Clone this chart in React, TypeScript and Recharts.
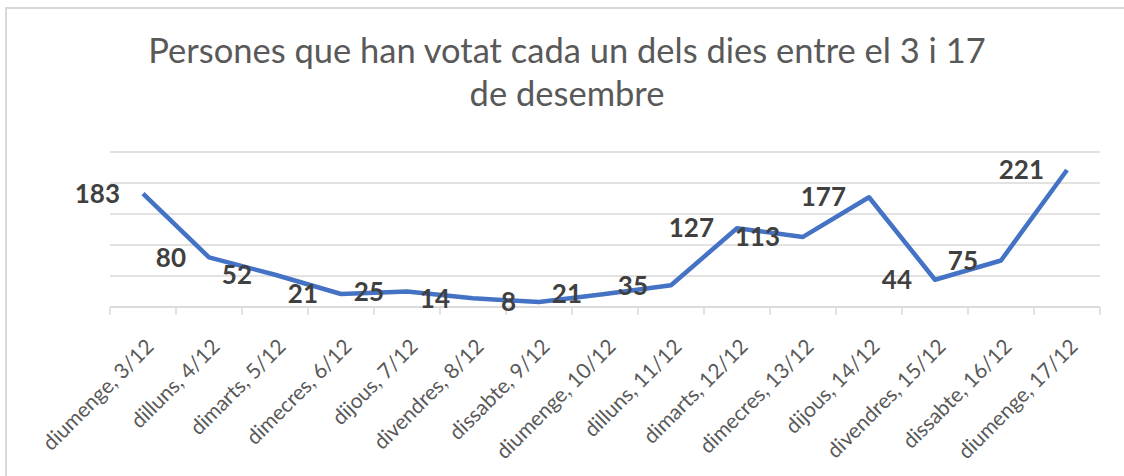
import { LineChart, Line, XAxis, YAxis, CartesianGrid, LabelList } from "recharts";

const days = [
  "diumenge, 3/12",
  "dilluns, 4/12",
  "dimarts, 5/12",
  "dimecres, 6/12",
  "dijous, 7/12",
  "divendres, 8/12",
  "dissabte, 9/12",
  "diumenge, 10/12",
  "dilluns, 11/12",
  "dimarts, 12/12",
  "dimecres, 13/12",
  "dijous, 14/12",
  "divendres, 15/12",
  "dissabte, 16/12",
  "diumenge, 17/12",
];

const votes = [183, 80, 52, 21, 25, 14, 8, 21, 35, 127, 113, 177, 44, 75, 221];

const yTicks = [0, 50, 100, 150, 200, 250];

const data = days.map((day, i) => ({ day, votes: votes[i] }));

const PLOT_LEFT = 110;
const PLOT_RIGHT = 1100;
const STEP = (PLOT_RIGHT - PLOT_LEFT) / days.length;
const FONT = "Lato, 'Open Sans', sans-serif";

const DayTick = ({ x, y, payload, index }: any) => {
  const half = STEP / 2;
  const last = index === days.length - 1;
  const ax = x + 12;
  const ay = y + 33;
  return (
    <g>
      <line x1={x - half} x2={x - half} y1={y - 8} y2={y} stroke="#d9d9d9" strokeWidth={1.5} />
      {last && (
        <line x1={x + half} x2={x + half} y1={y - 8} y2={y} stroke="#d9d9d9" strokeWidth={1.5} />
      )}
      <text
        x={ax}
        y={ay}
        transform={`rotate(-45, ${ax}, ${ay})`}
        textAnchor="end"
        fill="#595959"
        fontSize={21}
        fontFamily={FONT}
      >
        {payload.value}
      </text>
    </g>
  );
};

export default function App() {
  return (
    <div
      style={{
        position: "absolute",
        left: 0,
        top: 0,
        width: 1124,
        height: 476,
        background: "#fff",
        overflow: "hidden",
      }}
    >
      <style>{`html, body { margin: 0; overflow: hidden; }`}</style>
      <div
        style={{
          position: "absolute",
          left: 5,
          top: 7,
          width: 1200,
          height: 500,
          borderLeft: "2px solid #d9d9d9",
          borderTop: "2px solid #d9d9d9",
        }}
      />
      <div
        style={{
          position: "absolute",
          left: 0,
          top: 28,
          width: 1134,
          textAlign: "center",
          fontFamily: FONT,
          fontSize: 34.5,
          lineHeight: "43px",
          color: "#595959",
        }}
      >
        Persones que han votat cada un dels dies entre el 3 i 17
        <br />
        de desembre
      </div>
      <div style={{ position: "absolute", left: 0, top: 0 }}>
        <LineChart
          width={1124}
          height={476}
          data={data}
          margin={{ top: 152, right: 1124 - PLOT_RIGHT, left: PLOT_LEFT, bottom: 9 }}
        >
          <CartesianGrid vertical={false} stroke="#d9d9d9" strokeWidth={1.5} />
          <XAxis
            dataKey="day"
            interval={0}
            height={160}
            padding={{ left: STEP / 2, right: STEP / 2 }}
            axisLine={{ stroke: "#d9d9d9", strokeWidth: 1.5 }}
            tickLine={false}
            tick={<DayTick />}
          />
          <YAxis hide width={0} domain={[0, 250]} ticks={yTicks} />
          <Line
            type="linear"
            dataKey="votes"
            stroke="#4472C4"
            strokeWidth={4.5}
            strokeLinejoin="round"
            dot={false}
            isAnimationActive={false}
          >
            <LabelList
              dataKey="votes"
              position="left"
              offset={23}
              fill="#404040"
              fontSize={26}
              fontWeight="bold"
              fontFamily={FONT}
            />
          </Line>
        </LineChart>
      </div>
    </div>
  );
}
